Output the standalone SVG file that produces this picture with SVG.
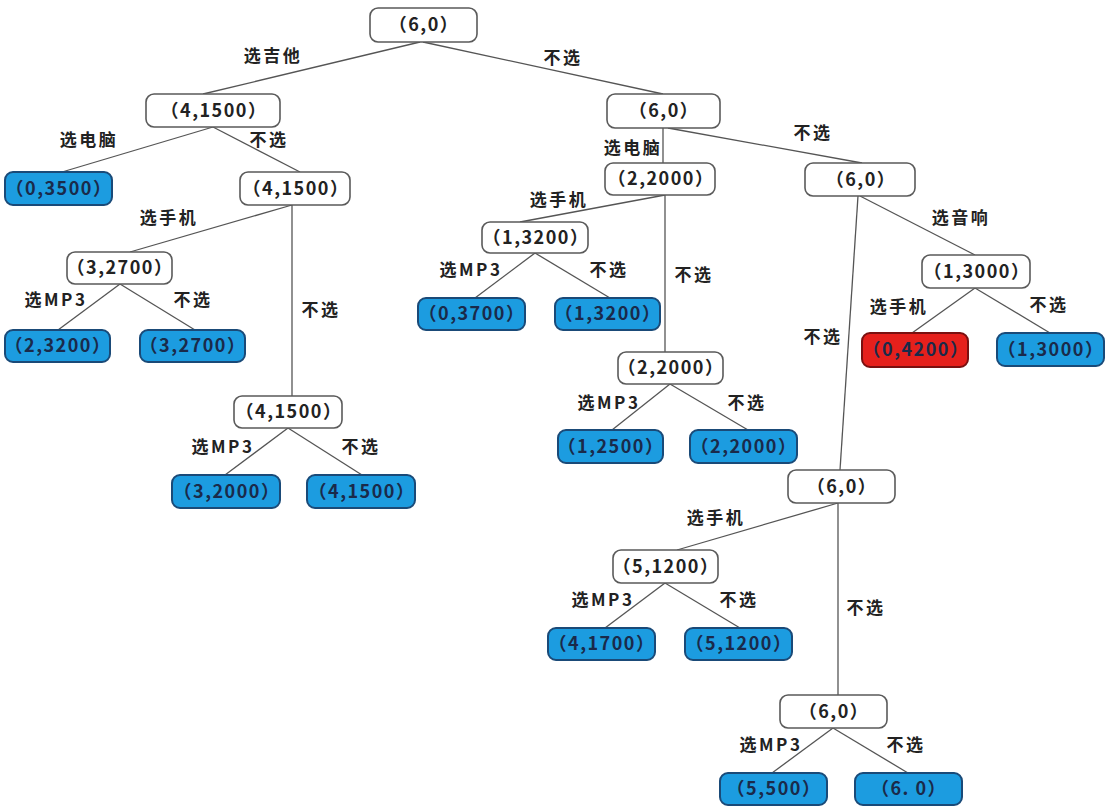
<svg xmlns="http://www.w3.org/2000/svg" width="1108" height="810" viewBox="0 0 1108 810">
<style>
.w rect{fill:#fff;stroke:#5a5a5a;stroke-width:1.6}
.b rect{fill:#1c9ce0;stroke:#1a4a78;stroke-width:2}
.r rect{fill:#e5201c;stroke:#7a1010;stroke-width:2}
.n text{font-family:"Noto Sans CJK SC","Liberation Sans",sans-serif;font-size:18px;font-weight:bold;fill:#222;text-anchor:middle;letter-spacing:1.5px}
.r text,.b text{fill:#1a2a4a}
.l{font-family:"Noto Sans CJK SC","Liberation Sans",sans-serif;font-size:17px;font-weight:bold;fill:#222;text-anchor:middle;letter-spacing:2.5px}
#edges line{stroke:#555;stroke-width:1.3}
</style>
<rect width="1108" height="810" fill="#fff"/>
<g id="edges">
<line x1="420" y1="42" x2="203" y2="94"/>
<line x1="423" y1="42" x2="663" y2="94"/>
<line x1="213" y1="127" x2="62" y2="172"/>
<line x1="213" y1="127" x2="300" y2="172"/>
<line x1="663" y1="128" x2="663" y2="163"/>
<line x1="668" y1="128" x2="862" y2="163"/>
<line x1="292" y1="205" x2="130" y2="252"/>
<line x1="292" y1="205" x2="292" y2="396"/>
<line x1="120" y1="284" x2="58" y2="330"/>
<line x1="120" y1="284" x2="195" y2="330"/>
<line x1="665" y1="195" x2="520" y2="222"/>
<line x1="665" y1="195" x2="665" y2="352"/>
<line x1="535" y1="253" x2="475" y2="298"/>
<line x1="535" y1="253" x2="610" y2="298"/>
<line x1="860" y1="196" x2="975" y2="255"/>
<line x1="858" y1="196" x2="840" y2="470"/>
<line x1="975" y1="288" x2="912" y2="333"/>
<line x1="975" y1="288" x2="1050" y2="333"/>
<line x1="670" y1="384" x2="612" y2="430"/>
<line x1="670" y1="384" x2="748" y2="430"/>
<line x1="288" y1="428" x2="225" y2="475"/>
<line x1="288" y1="428" x2="362" y2="475"/>
<line x1="838" y1="503" x2="677" y2="550"/>
<line x1="838" y1="503" x2="838" y2="695"/>
<line x1="665" y1="583" x2="605" y2="628"/>
<line x1="665" y1="583" x2="740" y2="628"/>
<line x1="833" y1="728" x2="772" y2="773"/>
<line x1="833" y1="728" x2="908" y2="773"/>
</g>
<g id="labels">
<text class="l" x="273" y="62">选吉他</text>
<text class="l" x="563" y="64">不选</text>
<text class="l" x="89" y="146">选电脑</text>
<text class="l" x="269" y="146">不选</text>
<text class="l" x="633" y="154">选电脑</text>
<text class="l" x="813" y="139">不选</text>
<text class="l" x="169" y="224">选手机</text>
<text class="l" x="559" y="206">选手机</text>
<text class="l" x="961" y="224">选音响</text>
<text class="l" x="56" y="306">选MP3</text>
<text class="l" x="193" y="306">不选</text>
<text class="l" x="471" y="276">选MP3</text>
<text class="l" x="609" y="276">不选</text>
<text class="l" x="694" y="281">不选</text>
<text class="l" x="321" y="316">不选</text>
<text class="l" x="823" y="343">不选</text>
<text class="l" x="899" y="313">选手机</text>
<text class="l" x="1049" y="311">不选</text>
<text class="l" x="609" y="409">选MP3</text>
<text class="l" x="747" y="409">不选</text>
<text class="l" x="223" y="453">选MP3</text>
<text class="l" x="361" y="453">不选</text>
<text class="l" x="716" y="524">选手机</text>
<text class="l" x="603" y="606">选MP3</text>
<text class="l" x="739" y="606">不选</text>
<text class="l" x="866" y="614">不选</text>
<text class="l" x="771" y="751">选MP3</text>
<text class="l" x="906" y="751">不选</text>
</g>
<g id="n1" class="n w"><rect x="370" y="8" width="107" height="34" rx="8"/><text x="424" y="31">（6,0）</text></g>
<g id="n2" class="n w"><rect x="146" y="94" width="134" height="33" rx="8"/><text x="214" y="117">（4,1500）</text></g>
<g id="n3" class="n w"><rect x="607" y="94" width="113" height="34" rx="8"/><text x="664" y="117">（6,0）</text></g>
<g id="n4" class="n b"><rect x="5" y="172" width="107" height="33" rx="8"/><text x="59" y="195">（0,3500）</text></g>
<g id="n5" class="n w"><rect x="240" y="172" width="110" height="33" rx="8"/><text x="296" y="195">（4,1500）</text></g>
<g id="n6" class="n w"><rect x="605" y="163" width="110" height="32" rx="8"/><text x="661" y="185">（2,2000）</text></g>
<g id="n7" class="n w"><rect x="805" y="163" width="110" height="33" rx="8"/><text x="861" y="186">（6,0）</text></g>
<g id="n8" class="n w"><rect x="67" y="252" width="105" height="32" rx="8"/><text x="120" y="274">（3,2700）</text></g>
<g id="n9" class="n w"><rect x="482" y="222" width="106" height="31" rx="8"/><text x="536" y="244">（1,3200）</text></g>
<g id="n10" class="n w"><rect x="922" y="255" width="108" height="33" rx="8"/><text x="977" y="278">（1,3000）</text></g>
<g id="n11" class="n b"><rect x="5" y="330" width="105" height="32" rx="8"/><text x="58" y="352">（2,3200）</text></g>
<g id="n12" class="n b"><rect x="140" y="330" width="105" height="32" rx="8"/><text x="193" y="352">（3,2700）</text></g>
<g id="n13" class="n b"><rect x="418" y="298" width="107" height="32" rx="8"/><text x="472" y="320">（0,3700）</text></g>
<g id="n14" class="n b"><rect x="555" y="298" width="105" height="32" rx="8"/><text x="608" y="320">（1,3200）</text></g>
<g id="n15" class="n r"><rect x="862" y="333" width="106" height="34" rx="8"/><text x="916" y="356">（0,4200）</text></g>
<g id="n16" class="n b"><rect x="997" y="333" width="107" height="33" rx="8"/><text x="1051" y="356">（1,3000）</text></g>
<g id="n17" class="n w"><rect x="618" y="352" width="105" height="32" rx="8"/><text x="671" y="374">（2,2000）</text></g>
<g id="n18" class="n w"><rect x="234" y="396" width="108" height="32" rx="8"/><text x="289" y="418">（4,1500）</text></g>
<g id="n19" class="n b"><rect x="558" y="430" width="105" height="33" rx="8"/><text x="611" y="453">（1,2500）</text></g>
<g id="n20" class="n b"><rect x="690" y="430" width="107" height="33" rx="8"/><text x="744" y="453">（2,2000）</text></g>
<g id="n21" class="n b"><rect x="172" y="475" width="108" height="33" rx="8"/><text x="227" y="498">（3,2000）</text></g>
<g id="n22" class="n b"><rect x="307" y="475" width="108" height="33" rx="8"/><text x="362" y="498">（4,1500）</text></g>
<g id="n23" class="n w"><rect x="788" y="470" width="107" height="33" rx="8"/><text x="842" y="493">（6,0）</text></g>
<g id="n24" class="n w"><rect x="613" y="550" width="105" height="33" rx="8"/><text x="666" y="573">（5,1200）</text></g>
<g id="n25" class="n b"><rect x="548" y="628" width="107" height="32" rx="8"/><text x="602" y="650">（4,1700）</text></g>
<g id="n26" class="n b"><rect x="685" y="628" width="107" height="32" rx="8"/><text x="739" y="650">（5,1200）</text></g>
<g id="n27" class="n w"><rect x="780" y="695" width="107" height="33" rx="8"/><text x="834" y="718">（6,0）</text></g>
<g id="n28" class="n b"><rect x="720" y="773" width="107" height="32" rx="8"/><text x="774" y="795">（5,500）</text></g>
<g id="n29" class="n b"><rect x="855" y="773" width="107" height="32" rx="8"/><text x="909" y="795">（6. 0）</text></g>
</svg>
